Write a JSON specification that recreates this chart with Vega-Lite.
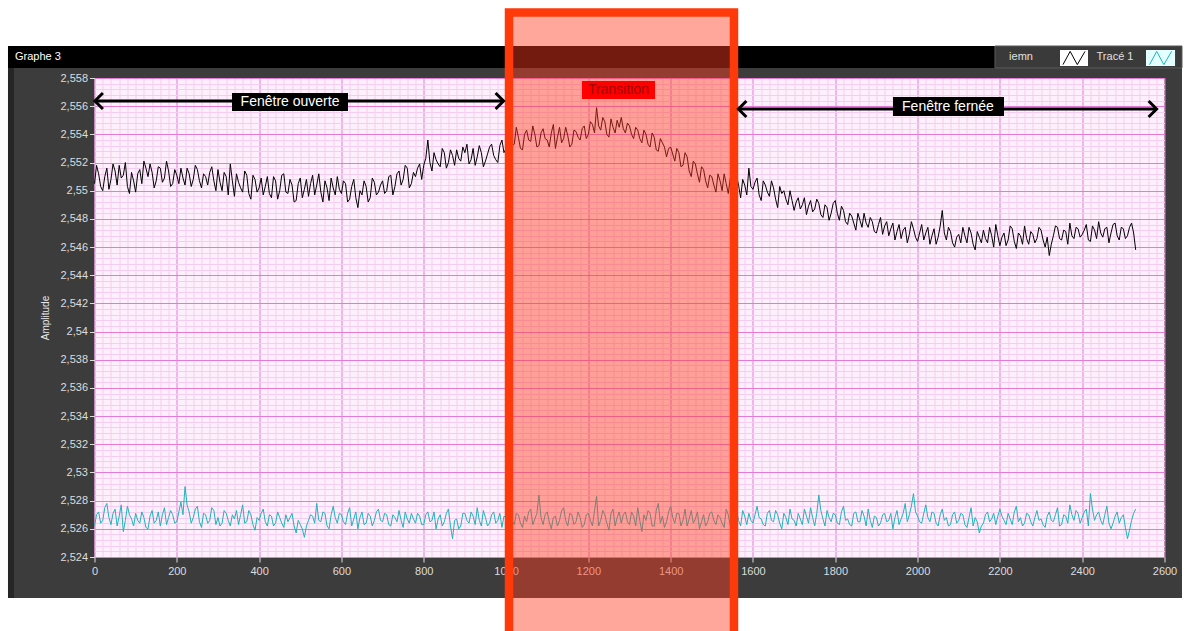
{
"$schema": "https://vega.github.io/schema/vega-lite/v6.json",
"width": 1070, "height": 479,
"autosize": {"type": "none"},
"padding": {"left": 94.5, "top": 78, "right": 22.5, "bottom": 74},
"background": "#3c3c3c",
"config": {"view": {"fill": "#fdf0fc", "stroke": null}},
"datasets": {
"one": [{}],
"sig": [
{"t":0,"iemn":2.5505,"trace":2.5262},{"t":10,"iemn":2.5512,"trace":2.5272},{"t":20,"iemn":2.5500,"trace":2.5266},{"t":30,"iemn":2.5516,"trace":2.5278},{"t":40,"iemn":2.5508,"trace":2.5263},{"t":50,"iemn":2.5514,"trace":2.5274},{"t":60,"iemn":2.5518,"trace":2.5269},{"t":70,"iemn":2.5511,"trace":2.5258},{"t":80,"iemn":2.5503,"trace":2.5276},{"t":90,"iemn":2.5513,"trace":2.5267},
{"t":100,"iemn":2.5499,"trace":2.5271},{"t":110,"iemn":2.5515,"trace":2.5264},{"t":120,"iemn":2.5521,"trace":2.5268},{"t":130,"iemn":2.5510,"trace":2.5260},{"t":140,"iemn":2.5513,"trace":2.5273},{"t":150,"iemn":2.5507,"trace":2.5266},{"t":160,"iemn":2.5516,"trace":2.5262},{"t":170,"iemn":2.5509,"trace":2.5275},{"t":180,"iemn":2.5514,"trace":2.5268},{"t":190,"iemn":2.5505,"trace":2.5270},
{"t":200,"iemn":2.5511,"trace":2.5265},{"t":210,"iemn":2.5516,"trace":2.5279},{"t":220,"iemn":2.5504,"trace":2.5290},{"t":230,"iemn":2.5512,"trace":2.5272},{"t":240,"iemn":2.5508,"trace":2.5268},{"t":250,"iemn":2.5515,"trace":2.5276},{"t":260,"iemn":2.5502,"trace":2.5261},{"t":270,"iemn":2.5510,"trace":2.5270},{"t":280,"iemn":2.5513,"trace":2.5266},{"t":290,"iemn":2.5507,"trace":2.5273},
{"t":300,"iemn":2.5515,"trace":2.5268},{"t":310,"iemn":2.5500,"trace":2.5264},{"t":320,"iemn":2.5510,"trace":2.5271},{"t":330,"iemn":2.5519,"trace":2.5262},{"t":340,"iemn":2.5496,"trace":2.5267},{"t":350,"iemn":2.5506,"trace":2.5263},{"t":360,"iemn":2.5499,"trace":2.5277},{"t":370,"iemn":2.5511,"trace":2.5265},{"t":380,"iemn":2.5494,"trace":2.5270},{"t":390,"iemn":2.5508,"trace":2.5259},
{"t":400,"iemn":2.5502,"trace":2.5266},{"t":410,"iemn":2.5497,"trace":2.5274},{"t":420,"iemn":2.5510,"trace":2.5262},{"t":430,"iemn":2.5495,"trace":2.5269},{"t":440,"iemn":2.5507,"trace":2.5264},{"t":450,"iemn":2.5500,"trace":2.5268},{"t":460,"iemn":2.5512,"trace":2.5261},{"t":470,"iemn":2.5498,"trace":2.5265},{"t":480,"iemn":2.5504,"trace":2.5271},{"t":490,"iemn":2.5493,"trace":2.5257},
{"t":500,"iemn":2.5509,"trace":2.5263},{"t":510,"iemn":2.5501,"trace":2.5254},{"t":520,"iemn":2.5496,"trace":2.5266},{"t":530,"iemn":2.5511,"trace":2.5269},{"t":540,"iemn":2.5504,"trace":2.5278},{"t":550,"iemn":2.5499,"trace":2.5265},{"t":560,"iemn":2.5507,"trace":2.5271},{"t":570,"iemn":2.5493,"trace":2.5260},{"t":580,"iemn":2.5502,"trace":2.5276},{"t":590,"iemn":2.5510,"trace":2.5264},
{"t":600,"iemn":2.5498,"trace":2.5270},{"t":610,"iemn":2.5505,"trace":2.5263},{"t":620,"iemn":2.5494,"trace":2.5275},{"t":630,"iemn":2.5508,"trace":2.5267},{"t":640,"iemn":2.5488,"trace":2.5260},{"t":650,"iemn":2.5497,"trace":2.5272},{"t":660,"iemn":2.5503,"trace":2.5264},{"t":670,"iemn":2.5495,"trace":2.5269},{"t":680,"iemn":2.5506,"trace":2.5266},{"t":690,"iemn":2.5499,"trace":2.5274},
{"t":700,"iemn":2.5507,"trace":2.5265},{"t":710,"iemn":2.5500,"trace":2.5270},{"t":720,"iemn":2.5511,"trace":2.5262},{"t":730,"iemn":2.5503,"trace":2.5268},{"t":740,"iemn":2.5514,"trace":2.5273},{"t":750,"iemn":2.5508,"trace":2.5261},{"t":760,"iemn":2.5516,"trace":2.5267},{"t":770,"iemn":2.5505,"trace":2.5271},{"t":780,"iemn":2.5510,"trace":2.5264},{"t":790,"iemn":2.5519,"trace":2.5269},
{"t":800,"iemn":2.5518,"trace":2.5263},{"t":810,"iemn":2.5536,"trace":2.5272},{"t":820,"iemn":2.5514,"trace":2.5266},{"t":830,"iemn":2.5522,"trace":2.5260},{"t":840,"iemn":2.5517,"trace":2.5270},{"t":850,"iemn":2.5527,"trace":2.5265},{"t":860,"iemn":2.5520,"trace":2.5274},{"t":870,"iemn":2.5525,"trace":2.5253},{"t":880,"iemn":2.5529,"trace":2.5267},{"t":890,"iemn":2.5521,"trace":2.5262},
{"t":900,"iemn":2.5527,"trace":2.5271},{"t":910,"iemn":2.5519,"trace":2.5264},{"t":920,"iemn":2.5530,"trace":2.5269},{"t":930,"iemn":2.5524,"trace":2.5275},{"t":940,"iemn":2.5527,"trace":2.5262},{"t":950,"iemn":2.5521,"trace":2.5268},{"t":960,"iemn":2.5531,"trace":2.5264},{"t":970,"iemn":2.5525,"trace":2.5272},{"t":980,"iemn":2.5520,"trace":2.5266},{"t":990,"iemn":2.5536,"trace":2.5261},
{"t":1000,"iemn":2.5530,"trace":2.5268},{"t":1010,"iemn":2.5541,"trace":2.5273},{"t":1020,"iemn":2.5533,"trace":2.5263},{"t":1030,"iemn":2.5538,"trace":2.5270},{"t":1040,"iemn":2.5529,"trace":2.5261},{"t":1050,"iemn":2.5543,"trace":2.5265},{"t":1060,"iemn":2.5535,"trace":2.5274},{"t":1070,"iemn":2.5540,"trace":2.5267},{"t":1080,"iemn":2.5532,"trace":2.5284},{"t":1090,"iemn":2.5544,"trace":2.5263},
{"t":1100,"iemn":2.5536,"trace":2.5272},{"t":1110,"iemn":2.5541,"trace":2.5260},{"t":1120,"iemn":2.5530,"trace":2.5269},{"t":1130,"iemn":2.5545,"trace":2.5266},{"t":1140,"iemn":2.5537,"trace":2.5275},{"t":1150,"iemn":2.5539,"trace":2.5262},{"t":1160,"iemn":2.5533,"trace":2.5270},{"t":1170,"iemn":2.5542,"trace":2.5265},{"t":1180,"iemn":2.5536,"trace":2.5268},{"t":1190,"iemn":2.5546,"trace":2.5263},
{"t":1200,"iemn":2.5540,"trace":2.5271},{"t":1210,"iemn":2.5547,"trace":2.5262},{"t":1220,"iemn":2.5559,"trace":2.5283},{"t":1230,"iemn":2.5543,"trace":2.5266},{"t":1240,"iemn":2.5549,"trace":2.5270},{"t":1250,"iemn":2.5538,"trace":2.5259},{"t":1260,"iemn":2.5545,"trace":2.5274},{"t":1270,"iemn":2.5550,"trace":2.5268},{"t":1280,"iemn":2.5552,"trace":2.5264},{"t":1290,"iemn":2.5541,"trace":2.5272},
{"t":1300,"iemn":2.5546,"trace":2.5263},{"t":1310,"iemn":2.5537,"trace":2.5269},{"t":1320,"iemn":2.5543,"trace":2.5275},{"t":1330,"iemn":2.5534,"trace":2.5258},{"t":1340,"iemn":2.5540,"trace":2.5266},{"t":1350,"iemn":2.5531,"trace":2.5271},{"t":1360,"iemn":2.5538,"trace":2.5262},{"t":1370,"iemn":2.5528,"trace":2.5278},{"t":1380,"iemn":2.5534,"trace":2.5269},{"t":1390,"iemn":2.5524,"trace":2.5265},
{"t":1400,"iemn":2.5531,"trace":2.5276},{"t":1410,"iemn":2.5521,"trace":2.5264},{"t":1420,"iemn":2.5527,"trace":2.5271},{"t":1430,"iemn":2.5518,"trace":2.5266},{"t":1440,"iemn":2.5524,"trace":2.5262},{"t":1450,"iemn":2.5510,"trace":2.5273},{"t":1460,"iemn":2.5519,"trace":2.5267},{"t":1470,"iemn":2.5506,"trace":2.5260},{"t":1480,"iemn":2.5515,"trace":2.5270},{"t":1490,"iemn":2.5502,"trace":2.5265},
{"t":1500,"iemn":2.5510,"trace":2.5272},{"t":1510,"iemn":2.5499,"trace":2.5263},{"t":1520,"iemn":2.5507,"trace":2.5268},{"t":1530,"iemn":2.5512,"trace":2.5261},{"t":1540,"iemn":2.5498,"trace":2.5270},{"t":1550,"iemn":2.5506,"trace":2.5266},{"t":1560,"iemn":2.5511,"trace":2.5274},{"t":1570,"iemn":2.5495,"trace":2.5262},{"t":1580,"iemn":2.5504,"trace":2.5269},{"t":1590,"iemn":2.5516,"trace":2.5271},
{"t":1600,"iemn":2.5501,"trace":2.5264},{"t":1610,"iemn":2.5509,"trace":2.5276},{"t":1620,"iemn":2.5493,"trace":2.5267},{"t":1630,"iemn":2.5504,"trace":2.5262},{"t":1640,"iemn":2.5496,"trace":2.5273},{"t":1650,"iemn":2.5502,"trace":2.5265},{"t":1660,"iemn":2.5488,"trace":2.5270},{"t":1670,"iemn":2.5498,"trace":2.5260},{"t":1680,"iemn":2.5494,"trace":2.5268},{"t":1690,"iemn":2.5500,"trace":2.5274},
{"t":1700,"iemn":2.5486,"trace":2.5266},{"t":1710,"iemn":2.5495,"trace":2.5271},{"t":1720,"iemn":2.5490,"trace":2.5263},{"t":1730,"iemn":2.5483,"trace":2.5269},{"t":1740,"iemn":2.5493,"trace":2.5275},{"t":1750,"iemn":2.5487,"trace":2.5262},{"t":1760,"iemn":2.5491,"trace":2.5284},{"t":1770,"iemn":2.5481,"trace":2.5267},{"t":1780,"iemn":2.5488,"trace":2.5273},{"t":1790,"iemn":2.5484,"trace":2.5265},
{"t":1800,"iemn":2.5493,"trace":2.5270},{"t":1810,"iemn":2.5479,"trace":2.5263},{"t":1820,"iemn":2.5486,"trace":2.5276},{"t":1830,"iemn":2.5476,"trace":2.5267},{"t":1840,"iemn":2.5482,"trace":2.5262},{"t":1850,"iemn":2.5472,"trace":2.5272},{"t":1860,"iemn":2.5479,"trace":2.5265},{"t":1870,"iemn":2.5484,"trace":2.5269},{"t":1880,"iemn":2.5474,"trace":2.5274},{"t":1890,"iemn":2.5478,"trace":2.5261},
{"t":1900,"iemn":2.5470,"trace":2.5268},{"t":1910,"iemn":2.5481,"trace":2.5264},{"t":1920,"iemn":2.5475,"trace":2.5271},{"t":1930,"iemn":2.5468,"trace":2.5266},{"t":1940,"iemn":2.5477,"trace":2.5260},{"t":1950,"iemn":2.5471,"trace":2.5273},{"t":1960,"iemn":2.5466,"trace":2.5267},{"t":1970,"iemn":2.5474,"trace":2.5278},{"t":1980,"iemn":2.5469,"trace":2.5270},{"t":1990,"iemn":2.5473,"trace":2.5285},
{"t":2000,"iemn":2.5464,"trace":2.5269},{"t":2010,"iemn":2.5476,"trace":2.5264},{"t":2020,"iemn":2.5470,"trace":2.5277},{"t":2030,"iemn":2.5462,"trace":2.5265},{"t":2040,"iemn":2.5473,"trace":2.5271},{"t":2050,"iemn":2.5467,"trace":2.5262},{"t":2060,"iemn":2.5486,"trace":2.5274},{"t":2070,"iemn":2.5465,"trace":2.5268},{"t":2080,"iemn":2.5471,"trace":2.5263},{"t":2090,"iemn":2.5460,"trace":2.5272},
{"t":2100,"iemn":2.5469,"trace":2.5266},{"t":2110,"iemn":2.5474,"trace":2.5270},{"t":2120,"iemn":2.5463,"trace":2.5261},{"t":2130,"iemn":2.5470,"trace":2.5275},{"t":2140,"iemn":2.5458,"trace":2.5268},{"t":2150,"iemn":2.5467,"trace":2.5257},{"t":2160,"iemn":2.5472,"trace":2.5264},{"t":2170,"iemn":2.5463,"trace":2.5272},{"t":2180,"iemn":2.5468,"trace":2.5267},{"t":2190,"iemn":2.5476,"trace":2.5263},
{"t":2200,"iemn":2.5461,"trace":2.5274},{"t":2210,"iemn":2.5470,"trace":2.5266},{"t":2220,"iemn":2.5465,"trace":2.5271},{"t":2230,"iemn":2.5473,"trace":2.5263},{"t":2240,"iemn":2.5459,"trace":2.5276},{"t":2250,"iemn":2.5468,"trace":2.5268},{"t":2260,"iemn":2.5475,"trace":2.5264},{"t":2270,"iemn":2.5462,"trace":2.5270},{"t":2280,"iemn":2.5469,"trace":2.5262},{"t":2290,"iemn":2.5466,"trace":2.5273},
{"t":2300,"iemn":2.5472,"trace":2.5267},{"t":2310,"iemn":2.5460,"trace":2.5261},{"t":2320,"iemn":2.5454,"trace":2.5272},{"t":2330,"iemn":2.5468,"trace":2.5265},{"t":2340,"iemn":2.5474,"trace":2.5275},{"t":2350,"iemn":2.5465,"trace":2.5263},{"t":2360,"iemn":2.5471,"trace":2.5269},{"t":2370,"iemn":2.5477,"trace":2.5277},{"t":2380,"iemn":2.5466,"trace":2.5266},{"t":2390,"iemn":2.5473,"trace":2.5271},
{"t":2400,"iemn":2.5469,"trace":2.5268},{"t":2410,"iemn":2.5476,"trace":2.5274},{"t":2420,"iemn":2.5464,"trace":2.5285},{"t":2430,"iemn":2.5472,"trace":2.5266},{"t":2440,"iemn":2.5478,"trace":2.5272},{"t":2450,"iemn":2.5467,"trace":2.5263},{"t":2460,"iemn":2.5474,"trace":2.5276},{"t":2470,"iemn":2.5470,"trace":2.5260},{"t":2480,"iemn":2.5477,"trace":2.5269},{"t":2490,"iemn":2.5465,"trace":2.5264},
{"t":2500,"iemn":2.5473,"trace":2.5270},{"t":2510,"iemn":2.5468,"trace":2.5253},{"t":2520,"iemn":2.5477,"trace":2.5266},{"t":2530,"iemn":2.5458,"trace":2.5274},
{"t":5,"iemn":2.5518,"trace":2.5270},{"t":15,"iemn":2.5503,"trace":2.5264},{"t":25,"iemn":2.5510,"trace":2.5275},{"t":35,"iemn":2.5501,"trace":2.5268},{"t":45,"iemn":2.5519,"trace":2.5271},{"t":55,"iemn":2.5504,"trace":2.5262},{"t":65,"iemn":2.5509,"trace":2.5277},{"t":75,"iemn":2.5520,"trace":2.5266},{"t":85,"iemn":2.5498,"trace":2.5270},{"t":95,"iemn":2.5507,"trace":2.5262},
{"t":105,"iemn":2.5512,"trace":2.5266},{"t":115,"iemn":2.5505,"trace":2.5272},{"t":125,"iemn":2.5516,"trace":2.5261},{"t":135,"iemn":2.5519,"trace":2.5269},{"t":145,"iemn":2.5502,"trace":2.5264},{"t":155,"iemn":2.5517,"trace":2.5272},{"t":165,"iemn":2.5506,"trace":2.5270},{"t":175,"iemn":2.5521,"trace":2.5263},{"t":185,"iemn":2.5503,"trace":2.5273},{"t":195,"iemn":2.5515,"trace":2.5264},
{"t":205,"iemn":2.5505,"trace":2.5272},{"t":215,"iemn":2.5509,"trace":2.5270},{"t":225,"iemn":2.5516,"trace":2.5277},{"t":235,"iemn":2.5503,"trace":2.5264},{"t":245,"iemn":2.5518,"trace":2.5274},{"t":255,"iemn":2.5507,"trace":2.5265},{"t":265,"iemn":2.5512,"trace":2.5271},{"t":275,"iemn":2.5504,"trace":2.5264},{"t":285,"iemn":2.5517,"trace":2.5275},{"t":295,"iemn":2.5500,"trace":2.5263},
{"t":305,"iemn":2.5506,"trace":2.5262},{"t":315,"iemn":2.5513,"trace":2.5273},{"t":325,"iemn":2.5497,"trace":2.5266},{"t":335,"iemn":2.5507,"trace":2.5270},{"t":345,"iemn":2.5512,"trace":2.5273},{"t":355,"iemn":2.5502,"trace":2.5270},{"t":365,"iemn":2.5514,"trace":2.5264},{"t":375,"iemn":2.5498,"trace":2.5273},{"t":385,"iemn":2.5511,"trace":2.5263},{"t":395,"iemn":2.5499,"trace":2.5268},
{"t":405,"iemn":2.5509,"trace":2.5271},{"t":415,"iemn":2.5503,"trace":2.5265},{"t":425,"iemn":2.5498,"trace":2.5270},{"t":435,"iemn":2.5510,"trace":2.5262},{"t":445,"iemn":2.5494,"trace":2.5272},{"t":455,"iemn":2.5511,"trace":2.5264},{"t":465,"iemn":2.5499,"trace":2.5270},{"t":475,"iemn":2.5508,"trace":2.5268},{"t":485,"iemn":2.5492,"trace":2.5262},{"t":495,"iemn":2.5505,"trace":2.5266},
{"t":505,"iemn":2.5495,"trace":2.5260},{"t":515,"iemn":2.5508,"trace":2.5262},{"t":525,"iemn":2.5505,"trace":2.5270},{"t":535,"iemn":2.5497,"trace":2.5264},{"t":545,"iemn":2.5512,"trace":2.5266},{"t":555,"iemn":2.5492,"trace":2.5272},{"t":565,"iemn":2.5502,"trace":2.5262},{"t":575,"iemn":2.5509,"trace":2.5270},{"t":585,"iemn":2.5497,"trace":2.5268},{"t":595,"iemn":2.5501,"trace":2.5271},
{"t":605,"iemn":2.5507,"trace":2.5265},{"t":615,"iemn":2.5492,"trace":2.5271},{"t":625,"iemn":2.5503,"trace":2.5262},{"t":635,"iemn":2.5495,"trace":2.5272},{"t":645,"iemn":2.5500,"trace":2.5268},{"t":655,"iemn":2.5507,"trace":2.5263},{"t":665,"iemn":2.5492,"trace":2.5271},{"t":675,"iemn":2.5509,"trace":2.5262},{"t":685,"iemn":2.5497,"trace":2.5272},{"t":695,"iemn":2.5504,"trace":2.5266},
{"t":705,"iemn":2.5498,"trace":2.5271},{"t":715,"iemn":2.5510,"trace":2.5263},{"t":725,"iemn":2.5497,"trace":2.5270},{"t":735,"iemn":2.5512,"trace":2.5265},{"t":745,"iemn":2.5504,"trace":2.5266},{"t":755,"iemn":2.5518,"trace":2.5272},{"t":765,"iemn":2.5502,"trace":2.5264},{"t":775,"iemn":2.5513,"trace":2.5267},{"t":785,"iemn":2.5516,"trace":2.5271},{"t":795,"iemn":2.5508,"trace":2.5263},
{"t":805,"iemn":2.5523,"trace":2.5270},{"t":815,"iemn":2.5520,"trace":2.5265},{"t":825,"iemn":2.5527,"trace":2.5272},{"t":835,"iemn":2.5519,"trace":2.5267},{"t":845,"iemn":2.5530,"trace":2.5262},{"t":855,"iemn":2.5516,"trace":2.5271},{"t":865,"iemn":2.5529,"trace":2.5262},{"t":875,"iemn":2.5518,"trace":2.5266},{"t":885,"iemn":2.5523,"trace":2.5260},{"t":895,"iemn":2.5531,"trace":2.5271},
{"t":905,"iemn":2.5533,"trace":2.5266},{"t":915,"iemn":2.5522,"trace":2.5272},{"t":925,"iemn":2.5518,"trace":2.5263},{"t":935,"iemn":2.5532,"trace":2.5266},{"t":945,"iemn":2.5517,"trace":2.5273},{"t":955,"iemn":2.5526,"trace":2.5262},{"t":965,"iemn":2.5533,"trace":2.5270},{"t":975,"iemn":2.5522,"trace":2.5264},{"t":985,"iemn":2.5532,"trace":2.5271},{"t":995,"iemn":2.5527,"trace":2.5269},
{"t":1005,"iemn":2.5537,"trace":2.5264},{"t":1015,"iemn":2.5532,"trace":2.5266},{"t":1025,"iemn":2.5545,"trace":2.5271},{"t":1035,"iemn":2.5530,"trace":2.5264},{"t":1045,"iemn":2.5540,"trace":2.5269},{"t":1055,"iemn":2.5536,"trace":2.5272},{"t":1065,"iemn":2.5546,"trace":2.5263},{"t":1075,"iemn":2.5531,"trace":2.5271},{"t":1085,"iemn":2.5541,"trace":2.5268},{"t":1095,"iemn":2.5537,"trace":2.5270},
{"t":1105,"iemn":2.5531,"trace":2.5265},{"t":1115,"iemn":2.5547,"trace":2.5268},{"t":1125,"iemn":2.5538,"trace":2.5262},{"t":1135,"iemn":2.5534,"trace":2.5273},{"t":1145,"iemn":2.5545,"trace":2.5266},{"t":1155,"iemn":2.5531,"trace":2.5271},{"t":1165,"iemn":2.5543,"trace":2.5263},{"t":1175,"iemn":2.5538,"trace":2.5272},{"t":1185,"iemn":2.5544,"trace":2.5261},{"t":1195,"iemn":2.5537,"trace":2.5270},
{"t":1205,"iemn":2.5549,"trace":2.5266},{"t":1215,"iemn":2.5541,"trace":2.5273},{"t":1225,"iemn":2.5546,"trace":2.5262},{"t":1235,"iemn":2.5552,"trace":2.5273},{"t":1245,"iemn":2.5540,"trace":2.5264},{"t":1255,"iemn":2.5551,"trace":2.5271},{"t":1265,"iemn":2.5541,"trace":2.5262},{"t":1275,"iemn":2.5545,"trace":2.5272},{"t":1285,"iemn":2.5544,"trace":2.5270},{"t":1295,"iemn":2.5548,"trace":2.5265},
{"t":1305,"iemn":2.5540,"trace":2.5272},{"t":1315,"iemn":2.5545,"trace":2.5262},{"t":1325,"iemn":2.5537,"trace":2.5266},{"t":1335,"iemn":2.5543,"trace":2.5270},{"t":1345,"iemn":2.5533,"trace":2.5273},{"t":1355,"iemn":2.5541,"trace":2.5262},{"t":1365,"iemn":2.5529,"trace":2.5273},{"t":1375,"iemn":2.5537,"trace":2.5264},{"t":1385,"iemn":2.5531,"trace":2.5261},{"t":1395,"iemn":2.5530,"trace":2.5272},
{"t":1405,"iemn":2.5526,"trace":2.5268},{"t":1415,"iemn":2.5530,"trace":2.5271},{"t":1425,"iemn":2.5517,"trace":2.5262},{"t":1435,"iemn":2.5527,"trace":2.5274},{"t":1445,"iemn":2.5514,"trace":2.5267},{"t":1455,"iemn":2.5521,"trace":2.5264},{"t":1465,"iemn":2.5512,"trace":2.5272},{"t":1475,"iemn":2.5517,"trace":2.5265},{"t":1485,"iemn":2.5507,"trace":2.5262},{"t":1495,"iemn":2.5511,"trace":2.5271},
{"t":1505,"iemn":2.5504,"trace":2.5266},{"t":1515,"iemn":2.5512,"trace":2.5270},{"t":1525,"iemn":2.5500,"trace":2.5264},{"t":1535,"iemn":2.5505,"trace":2.5274},{"t":1545,"iemn":2.5509,"trace":2.5262},{"t":1555,"iemn":2.5499,"trace":2.5271},{"t":1565,"iemn":2.5504,"trace":2.5266},{"t":1575,"iemn":2.5508,"trace":2.5273},{"t":1585,"iemn":2.5497,"trace":2.5263},{"t":1595,"iemn":2.5503,"trace":2.5266},
{"t":1605,"iemn":2.5506,"trace":2.5270},{"t":1615,"iemn":2.5497,"trace":2.5268},{"t":1625,"iemn":2.5507,"trace":2.5263},{"t":1635,"iemn":2.5499,"trace":2.5271},{"t":1645,"iemn":2.5507,"trace":2.5266},{"t":1655,"iemn":2.5494,"trace":2.5273},{"t":1665,"iemn":2.5503,"trace":2.5264},{"t":1675,"iemn":2.5500,"trace":2.5271},{"t":1685,"iemn":2.5490,"trace":2.5263},{"t":1695,"iemn":2.5493,"trace":2.5267},
{"t":1705,"iemn":2.5492,"trace":2.5262},{"t":1715,"iemn":2.5487,"trace":2.5267},{"t":1725,"iemn":2.5495,"trace":2.5274},{"t":1735,"iemn":2.5489,"trace":2.5264},{"t":1745,"iemn":2.5485,"trace":2.5268},{"t":1755,"iemn":2.5494,"trace":2.5271},{"t":1765,"iemn":2.5483,"trace":2.5273},{"t":1775,"iemn":2.5490,"trace":2.5262},{"t":1785,"iemn":2.5479,"trace":2.5268},{"t":1795,"iemn":2.5491,"trace":2.5271},
{"t":1805,"iemn":2.5484,"trace":2.5264},{"t":1815,"iemn":2.5489,"trace":2.5272},{"t":1825,"iemn":2.5478,"trace":2.5266},{"t":1835,"iemn":2.5484,"trace":2.5263},{"t":1845,"iemn":2.5477,"trace":2.5271},{"t":1855,"iemn":2.5484,"trace":2.5265},{"t":1865,"iemn":2.5474,"trace":2.5273},{"t":1875,"iemn":2.5477,"trace":2.5262},{"t":1885,"iemn":2.5481,"trace":2.5266},{"t":1895,"iemn":2.5471,"trace":2.5269},
{"t":1905,"iemn":2.5476,"trace":2.5262},{"t":1915,"iemn":2.5469,"trace":2.5270},{"t":1925,"iemn":2.5478,"trace":2.5265},{"t":1935,"iemn":2.5473,"trace":2.5271},{"t":1945,"iemn":2.5465,"trace":2.5268},{"t":1955,"iemn":2.5476,"trace":2.5263},{"t":1965,"iemn":2.5472,"trace":2.5271},{"t":1975,"iemn":2.5463,"trace":2.5265},{"t":1985,"iemn":2.5478,"trace":2.5276},{"t":1995,"iemn":2.5467,"trace":2.5272},
{"t":2005,"iemn":2.5470,"trace":2.5265},{"t":2015,"iemn":2.5465,"trace":2.5271},{"t":2025,"iemn":2.5474,"trace":2.5268},{"t":2035,"iemn":2.5468,"trace":2.5272},{"t":2045,"iemn":2.5462,"trace":2.5264},{"t":2055,"iemn":2.5475,"trace":2.5270},{"t":2065,"iemn":2.5470,"trace":2.5266},{"t":2075,"iemn":2.5474,"trace":2.5262},{"t":2085,"iemn":2.5463,"trace":2.5270},{"t":2095,"iemn":2.5467,"trace":2.5264},
{"t":2105,"iemn":2.5463,"trace":2.5271},{"t":2115,"iemn":2.5468,"trace":2.5263},{"t":2125,"iemn":2.5474,"trace":2.5268},{"t":2135,"iemn":2.5462,"trace":2.5262},{"t":2145,"iemn":2.5471,"trace":2.5265},{"t":2155,"iemn":2.5463,"trace":2.5262},{"t":2165,"iemn":2.5466,"trace":2.5270},{"t":2175,"iemn":2.5474,"trace":2.5265},{"t":2185,"iemn":2.5460,"trace":2.5271},{"t":2195,"iemn":2.5468,"trace":2.5269},
{"t":2205,"iemn":2.5467,"trace":2.5269},{"t":2215,"iemn":2.5461,"trace":2.5263},{"t":2225,"iemn":2.5475,"trace":2.5267},{"t":2235,"iemn":2.5464,"trace":2.5272},{"t":2245,"iemn":2.5470,"trace":2.5265},{"t":2255,"iemn":2.5462,"trace":2.5262},{"t":2265,"iemn":2.5466,"trace":2.5271},{"t":2275,"iemn":2.5471,"trace":2.5265},{"t":2285,"iemn":2.5463,"trace":2.5268},{"t":2295,"iemn":2.5474,"trace":2.5266},
{"t":2305,"iemn":2.5465,"trace":2.5263},{"t":2315,"iemn":2.5467,"trace":2.5269},{"t":2325,"iemn":2.5462,"trace":2.5266},{"t":2335,"iemn":2.5475,"trace":2.5270},{"t":2345,"iemn":2.5466,"trace":2.5262},{"t":2355,"iemn":2.5472,"trace":2.5270},{"t":2365,"iemn":2.5462,"trace":2.5264},{"t":2375,"iemn":2.5468,"trace":2.5270},{"t":2385,"iemn":2.5474,"trace":2.5273},{"t":2395,"iemn":2.5467,"trace":2.5264},
{"t":2405,"iemn":2.5472,"trace":2.5272},{"t":2415,"iemn":2.5465,"trace":2.5262},{"t":2425,"iemn":2.5475,"trace":2.5274},{"t":2435,"iemn":2.5466,"trace":2.5270},{"t":2445,"iemn":2.5470,"trace":2.5266},{"t":2455,"iemn":2.5473,"trace":2.5270},{"t":2465,"iemn":2.5463,"trace":2.5264},{"t":2475,"iemn":2.5476,"trace":2.5264},{"t":2485,"iemn":2.5468,"trace":2.5272},{"t":2495,"iemn":2.5474,"trace":2.5268},
{"t":2505,"iemn":2.5466,"trace":2.5261},{"t":2515,"iemn":2.5474,"trace":2.5259},{"t":2525,"iemn":2.5470,"trace":2.5271}
]
},
"layer": [
{"data": {"name": "sig"},
 "transform": [{"fold": ["iemn", "trace"], "as": ["serie", "v"]}],
 "mark": {"type": "line", "strokeWidth": 0, "opacity": 0},
 "encoding": {
  "x": {"field": "t", "type": "quantitative",
   "scale": {"domain": [0, 2600], "nice": false, "zero": false},
   "axis": {"title": null, "tickCount": 130, "domain": false, "grid": true, "gridWidth": 1,
    "gridColor": {"condition": {"test": "abs(datum.value/200 - round(datum.value/200)) < 0.01", "value": "#e47ad8"}, "value": "#f5cdf0"},
    "tickOpacity": {"condition": {"test": "abs(datum.value/200 - round(datum.value/200)) < 0.01", "value": 1}, "value": 0},
    "labelExpr": "abs(datum.value/200 - round(datum.value/200)) < 0.01 ? format(datum.value, 'd') : ''",
    "tickColor": "#dcdcdc", "tickSize": 5, "labelPadding": 3, "labelColor": "#dcdcdc", "labelFont": "Liberation Sans", "labelFontSize": 11,
    "labelOverlap": false, "labelFlush": false, "labelBound": false}},
  "y": {"field": "v", "type": "quantitative",
   "scale": {"domain": [2.524, 2.558], "nice": false, "zero": false},
   "axis": {"title": "Amplitude", "domain": false, "grid": true, "gridWidth": 1, "tickCount": 90,
    "values": [2.524,2.5244,2.5248,2.5252,2.5256,2.526,2.5264,2.5268,2.5272,2.5276,2.528,2.5284,2.5288,2.5292,2.5296,2.53,2.5304,2.5308,2.5312,2.5316,2.532,2.5324,2.5328,2.5332,2.5336,2.534,2.5344,2.5348,2.5352,2.5356,2.536,2.5364,2.5368,2.5372,2.5376,2.538,2.5384,2.5388,2.5392,2.5396,2.54,2.5404,2.5408,2.5412,2.5416,2.542,2.5424,2.5428,2.5432,2.5436,2.544,2.5444,2.5448,2.5452,2.5456,2.546,2.5464,2.5468,2.5472,2.5476,2.548,2.5484,2.5488,2.5492,2.5496,2.55,2.5504,2.5508,2.5512,2.5516,2.552,2.5524,2.5528,2.5532,2.5536,2.554,2.5544,2.5548,2.5552,2.5556,2.556,2.5564,2.5568,2.5572,2.5576,2.558],
    "gridColor": {"condition": {"test": "abs(datum.value*500 - round(datum.value*500)) < 0.01", "value": "#e47ad8"}, "value": "#f5cdf0"},
    "tickOpacity": {"condition": {"test": "abs(datum.value*500 - round(datum.value*500)) < 0.01", "value": 1}, "value": 0},
    "labelExpr": "abs(datum.value*500 - round(datum.value*500)) < 0.01 ? replace(format(datum.value, '.4~f'), '.', ',') : ''",
    "tickColor": "#dcdcdc", "tickSize": 5, "labelPadding": 2, "labelColor": "#dcdcdc", "labelFont": "Liberation Sans", "labelFontSize": 11,
    "labelOverlap": false, "labelFlush": false, "labelBound": false,
    "titleColor": "#e8e8e8", "titleFont": "Liberation Sans", "titleFontSize": 10, "titleFontWeight": "normal", "titlePadding": 9}},
  "color": {"field": "serie", "type": "nominal", "scale": {"domain": ["iemn", "trace"], "range": ["#000000", "#1fb3bb"]}, "legend": null}
 }},
{"data": {"name": "one"}, "mark": {"type": "rect", "fill": "#ffffff"},
 "encoding": {"x": {"datum": -400, "type": "quantitative"}, "x2": {"datum": 2800}, "y": {"datum": 2.560272, "type": "quantitative"}, "y2": {"datum": 2.58}}},
{"data": {"name": "one"}, "mark": {"type": "rect", "fill": "#ffffff"},
 "encoding": {"x": {"datum": -400, "type": "quantitative"}, "x2": {"datum": 2800}, "y": {"datum": 2.505, "type": "quantitative"}, "y2": {"datum": 2.52109}}},
{"data": {"name": "one"}, "mark": {"type": "rect", "fill": "#ffffff"},
 "encoding": {"x": {"datum": -400, "type": "quantitative"}, "x2": {"datum": -210.2}, "y": {"datum": 2.505, "type": "quantitative"}, "y2": {"datum": 2.58}}},
{"data": {"name": "one"}, "mark": {"type": "rect", "fill": "#ffffff"},
 "encoding": {"x": {"datum": 2642.5, "type": "quantitative"}, "x2": {"datum": 2800}, "y": {"datum": 2.505, "type": "quantitative"}, "y2": {"datum": 2.58}}},
{"data": {"name": "one"}, "mark": {"type": "rect", "fill": "#000000"},
 "encoding": {"x": {"datum": -210.2, "type": "quantitative"}, "x2": {"datum": 2642.5}, "y": {"datum": 2.55871, "type": "quantitative"}, "y2": {"datum": 2.560272}}},
{"data": {"name": "one"}, "mark": {"type": "rect", "fill": "#262626"},
 "encoding": {"x": {"datum": -210.2, "type": "quantitative"}, "x2": {"datum": -195.6}, "y": {"datum": 2.52109, "type": "quantitative"}, "y2": {"datum": 2.55871}}},
{"data": {"name": "one"}, "mark": {"type": "rect", "fill": "#3a3a3a", "stroke": "#5c5c5c", "strokeWidth": 1},
 "encoding": {"x": {"datum": 2188.1, "type": "quantitative"}, "x2": {"datum": 2642.5}, "y": {"datum": 2.55871, "type": "quantitative"}, "y2": {"datum": 2.560272}}},
{"data": {"name": "one"}, "mark": {"type": "rect", "fill": "#ffffff"},
 "encoding": {"x": {"datum": 2346.1, "type": "quantitative"}, "x2": {"datum": 2414.1}, "y": {"datum": 2.558852, "type": "quantitative"}, "y2": {"datum": 2.559988}}},
{"data": {"name": "one"}, "mark": {"type": "rect", "fill": "#e4ffff"},
 "encoding": {"x": {"datum": 2555.1, "type": "quantitative"}, "x2": {"datum": 2625.6}, "y": {"datum": 2.558852, "type": "quantitative"}, "y2": {"datum": 2.559988}}},
{"data": {"name": "one"}, "mark": {"type": "point", "shape": "M -1 0.6 L -0.35 -0.6 L 0.3 0.6 L 1 -0.6", "filled": false, "stroke": "#000000", "strokeWidth": 1, "size": 484, "opacity": 1},
 "encoding": {"x": {"datum": 2380.1, "type": "quantitative"}, "y": {"datum": 2.55942, "type": "quantitative"}}},
{"data": {"name": "one"}, "mark": {"type": "point", "shape": "M -1 0.6 L -0.35 -0.6 L 0.3 0.6 L 1 -0.6", "filled": false, "stroke": "#1fb3bb", "strokeWidth": 1, "size": 484, "opacity": 1},
 "encoding": {"x": {"datum": 2590.4, "type": "quantitative"}, "y": {"datum": 2.55942, "type": "quantitative"}}},
{"data": {"name": "one"}, "mark": {"type": "text", "text": "Graphe 3", "align": "left", "baseline": "middle", "color": "#ffffff", "font": "Liberation Sans", "fontSize": 11},
 "encoding": {"x": {"datum": -193.2, "type": "quantitative"}, "y": {"datum": 2.559491, "type": "quantitative"}}},
{"data": {"name": "one"}, "mark": {"type": "text", "text": "iemn", "align": "center", "baseline": "middle", "color": "#e0e0e0", "font": "Liberation Sans", "fontSize": 11},
 "encoding": {"x": {"datum": 2251.3, "type": "quantitative"}, "y": {"datum": 2.559491, "type": "quantitative"}}},
{"data": {"name": "one"}, "mark": {"type": "text", "text": "Tracé 1", "align": "center", "baseline": "middle", "color": "#e0e0e0", "font": "Liberation Sans", "fontSize": 11},
 "encoding": {"x": {"datum": 2479.7, "type": "quantitative"}, "y": {"datum": 2.559491, "type": "quantitative"}}},
{"data": {"name": "sig"},
 "transform": [{"fold": ["iemn", "trace"], "as": ["serie", "v"]}],
 "mark": {"type": "line", "strokeWidth": 1},
 "encoding": {
  "x": {"field": "t", "type": "quantitative"},
  "y": {"field": "v", "type": "quantitative"},
  "color": {"field": "serie", "type": "nominal", "scale": {"domain": ["iemn", "trace"], "range": ["#000000", "#1fb3bb"]}, "legend": null}
 }},
{"data": {"name": "one"}, "mark": {"type": "rect", "fill": "#ff3c1e", "fillOpacity": 0.45, "stroke": "#ff3a0a", "strokeWidth": 8.5, "strokeOpacity": 1},
 "encoding": {"x": {"datum": 1007.2, "type": "quantitative"}, "x2": {"datum": 1553.9}, "y": {"datum": 2.517399, "type": "quantitative"}, "y2": {"datum": 2.56265}}},
{"data": {"name": "one"}, "mark": {"type": "rule", "color": "#000000", "strokeWidth": 3},
 "encoding": {"x": {"datum": 1, "type": "quantitative"}, "x2": {"datum": 994}, "y": {"datum": 2.556367, "type": "quantitative"}}},
{"data": {"name": "one"}, "mark": {"type": "rule", "color": "#000000", "strokeWidth": 3},
 "encoding": {"x": {"datum": 1564.6, "type": "quantitative"}, "x2": {"datum": 2580.8}, "y": {"datum": 2.5558, "type": "quantitative"}}},
{"data": {"name": "one"}, "mark": {"type": "point", "shape": "M 1 -1 L 0 0 L 1 1", "filled": false, "stroke": "#000000", "strokeWidth": 3, "size": 256, "opacity": 1},
 "encoding": {"x": {"datum": 1, "type": "quantitative"}, "y": {"datum": 2.556367, "type": "quantitative"}}},
{"data": {"name": "one"}, "mark": {"type": "point", "shape": "M -1 -1 L 0 0 L -1 1", "filled": false, "stroke": "#000000", "strokeWidth": 3, "size": 256, "opacity": 1},
 "encoding": {"x": {"datum": 994, "type": "quantitative"}, "y": {"datum": 2.556367, "type": "quantitative"}}},
{"data": {"name": "one"}, "mark": {"type": "point", "shape": "M 1 -1 L 0 0 L 1 1", "filled": false, "stroke": "#000000", "strokeWidth": 3, "size": 256, "opacity": 1},
 "encoding": {"x": {"datum": 1564.6, "type": "quantitative"}, "y": {"datum": 2.5558, "type": "quantitative"}}},
{"data": {"name": "one"}, "mark": {"type": "point", "shape": "M -1 -1 L 0 0 L -1 1", "filled": false, "stroke": "#000000", "strokeWidth": 3, "size": 256, "opacity": 1},
 "encoding": {"x": {"datum": 2580.8, "type": "quantitative"}, "y": {"datum": 2.5558, "type": "quantitative"}}},
{"data": {"name": "one"}, "mark": {"type": "rect", "fill": "#000000"},
 "encoding": {"x": {"datum": 334.1, "type": "quantitative"}, "x2": {"datum": 616.0}, "y": {"datum": 2.555658, "type": "quantitative"}, "y2": {"datum": 2.556936}}},
{"data": {"name": "one"}, "mark": {"type": "text", "text": "Fenêtre ouverte", "align": "center", "baseline": "middle", "color": "#ffffff", "font": "Liberation Sans", "fontSize": 14},
 "encoding": {"x": {"datum": 475.1, "type": "quantitative"}, "y": {"datum": 2.556297, "type": "quantitative"}}},
{"data": {"name": "one"}, "mark": {"type": "rect", "fill": "#000000"},
 "encoding": {"x": {"datum": 1940.3, "type": "quantitative"}, "x2": {"datum": 2210.0}, "y": {"datum": 2.555303, "type": "quantitative"}, "y2": {"datum": 2.556651}}},
{"data": {"name": "one"}, "mark": {"type": "text", "text": "Fenêtre fernée", "align": "center", "baseline": "middle", "color": "#ffffff", "font": "Liberation Sans", "fontSize": 14},
 "encoding": {"x": {"datum": 2073.9, "type": "quantitative"}, "y": {"datum": 2.555977, "type": "quantitative"}}},
{"data": {"name": "one"}, "mark": {"type": "rect", "fill": "#ff0000"},
 "encoding": {"x": {"datum": 1184.6, "type": "quantitative"}, "x2": {"datum": 1362.0}, "y": {"datum": 2.556509, "type": "quantitative"}, "y2": {"datum": 2.557787}}},
{"data": {"name": "one"}, "mark": {"type": "text", "text": "Transition", "align": "center", "baseline": "middle", "color": "#a00000", "font": "Liberation Sans", "fontSize": 14},
 "encoding": {"x": {"datum": 1273.3, "type": "quantitative"}, "y": {"datum": 2.557148, "type": "quantitative"}}}
]
}
